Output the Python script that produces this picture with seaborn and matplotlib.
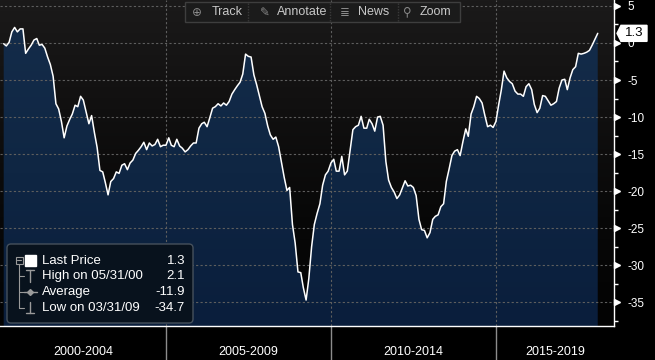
import numpy as np
import pandas as pd
import matplotlib
matplotlib.use("Agg")
import matplotlib.pyplot as plt
import matplotlib.dates as mdates
import matplotlib.ticker as mticker
import matplotlib.transforms as mtransforms
from matplotlib.colors import LinearSegmentedColormap
from matplotlib.patches import FancyBboxPatch, Rectangle, Polygon
import seaborn as sns

# month-end readings, Jan 2000 .. Jan 2018
values = [
    -0.1, -0.4, 0.1, 1.5, 2.1, 1.5, 1.9, 1.9, -1.4, -0.8, -0.3, 0.4,            # 2000
    0.6, -0.3, -0.2, -0.7, -1.9, -2.9, -4.5, -8.2, -8.9, -10.6, -12.8, -11.2,   # 2001
    -10.3, -9.6, -8.4, -8.6, -7.2, -7.7, -9.3, -10.9, -9.8, -12.1, -14.1, -17.2,  # 2002
    -17.4, -18.8, -20.5, -18.7, -18.3, -17.4, -17.6, -16.5, -16.3, -17.1, -16.2, -15.8,  # 2003
    -14.9, -14.5, -14.0, -13.4, -14.4, -13.5, -13.9, -13.7, -13.0, -14.0, -13.8, -13.8,  # 2004
    -12.8, -13.8, -14.0, -13.0, -13.9, -14.2, -14.7, -14.4, -13.9, -13.5, -13.5, -11.5,  # 2005
    -10.9, -10.7, -11.3, -10.1, -8.8, -8.6, -8.2, -8.5, -8.1, -8.4, -7.9, -6.9,  # 2006
    -6.3, -5.8, -5.3, -4.2, -1.5, -1.8, -1.9, -4.3, -5.6, -7.1, -8.6, -9.5,     # 2007
    -11.2, -12.4, -13.0, -12.7, -14.0, -16.0, -18.1, -19.9, -19.5, -24.5, -27.0, -30.9,  # 2008
    -31.0, -33.0, -34.7, -31.8, -27.5, -24.5, -23.0, -21.7, -19.2, -17.8, -17.3, -16.2,  # 2009
    -15.7, -17.3, -17.3, -15.3, -17.8, -17.3, -14.5, -11.7, -11.3, -11.1, -9.9, -11.5,  # 2010
    -11.5, -10.3, -10.9, -11.9, -10.0, -9.9, -11.1, -16.0, -18.5, -19.5, -20.1, -21.0,  # 2011
    -20.5, -19.6, -18.6, -19.3, -19.2, -19.5, -20.6, -23.8, -25.2, -25.3, -26.3, -25.6,  # 2012
    -23.8, -23.4, -23.2, -22.1, -21.7, -18.7, -17.0, -15.2, -14.6, -14.4, -15.2, -13.3,  # 2013
    -11.6, -12.6, -9.6, -8.6, -7.2, -7.5, -8.1, -9.8, -11.3, -11.1, -11.4, -10.6,  # 2014
    -8.3, -6.4, -3.8, -4.7, -5.2, -5.5, -6.5, -6.9, -6.9, -7.2, -5.9, -5.5,     # 2015
    -6.3, -8.3, -9.4, -8.8, -7.1, -7.2, -7.8, -8.4, -8.2, -7.9, -6.1, -5.0,     # 2016
    -4.9, -6.3, -4.7, -3.6, -3.2, -1.4, -1.5, -1.4, -1.25, -1.0, -0.3, 0.5,    # 2017
    1.3,                                                                         # 2018
]
dates = pd.date_range("2000-01-01", periods=len(values), freq="MS") + pd.offsets.MonthEnd(0)

y_ticks = [5, 0, -5, -10, -15, -20, -25, -30, -35]
period_labels = ["2000-2004", "2005-2009", "2010-2014", "2015-2019"]
period_starts = ["2000-01-01", "2005-01-01", "2010-01-01", "2015-01-01"]
legend_labels = ["Last Price", "High on 05/31/00", "Average", "Low on 03/31/09"]
legend_values = ["1.3", "2.1", "-11.9", "-34.7"]
toolbar_items = ["Track", "Annotate", "News", "Zoom"]
toolbar_icons = ["\u2295", "\u270e", "\u2263", "\u26b2"]

last_price = values[-1]
x_start, x_end = pd.Timestamp("1999-12-21"), pd.Timestamp("2018-07-30")
y_min, y_max = -38.2, 5.8

grid_col = "#5e5e5e"
dash = (0, (2, 2))

sns.set_theme(style="dark")
plt.rcParams["font.family"] = ["Liberation Sans", "DejaVu Sans"]

W, H = 655, 360
fig = plt.figure(figsize=(W / 100, H / 100), dpi=100, facecolor="black")
ax = fig.add_axes([0, 34 / H, 614 / W, 326 / H])
ax.grid(False)

# background gradient of plot area
bg = LinearSegmentedColormap.from_list("bg", ["#030303", "#080808", "#111010", "#1b1a1a"])
ax.imshow(np.linspace(0, 1, 256).reshape(-1, 1), cmap=bg, origin="lower",
          extent=(0, 1, 0, 1), transform=ax.transAxes, aspect="auto", zorder=0)

# gradient area under the line
poly = ax.fill_between(dates, values, y_min, facecolor="none", edgecolor="none")
fill_cmap = LinearSegmentedColormap.from_list("fill", ["#0a1e3c", "#0f2643", "#142c4a"])
im = ax.imshow(np.linspace(0, 1, 256).reshape(-1, 1), cmap=fill_cmap, origin="lower",
               extent=(mdates.date2num(x_start), mdates.date2num(x_end), y_min, 3),
               aspect="auto", zorder=1)
im.set_clip_path(poly.get_paths()[0], transform=ax.transData)

# grid
for v in y_ticks:
    ax.axhline(v, color=grid_col, lw=0.8, ls=dash, zorder=2)
for s in period_starts[1:]:
    ax.axvline(pd.Timestamp(s), color=grid_col, lw=0.8, ls=dash, zorder=2)
    ax.axvline(pd.Timestamp(s), ymin=-34 / 326, ymax=0, color="#8c8c8c", lw=1, clip_on=False)

sns.lineplot(x=dates, y=values, ax=ax, color="white", linewidth=1.1, zorder=4)

ax.set_xlim(x_start, x_end)
ax.set_ylim(y_min, y_max)
ax.set_xlabel("")
ax.set_ylabel("")

# x axis: yearly ticks, period labels below
year_ticks = [pd.Timestamp(f"{y}-01-01") for y in range(2001, 2019) if y % 5 != 0]
ax.set_xticks(year_ticks)
ax.tick_params(axis="x", direction="out", length=4, width=1, color="white", labelbottom=False)
xblend = mtransforms.blended_transform_factory(ax.transData, ax.transAxes)
for s, lab in zip(period_starts, period_labels):
    a = max(pd.Timestamp(s), x_start)
    b = min(pd.Timestamp(s) + pd.DateOffset(years=5), x_end)
    mid = a + (b - a) / 2
    ax.text(mid, -0.08, lab, transform=xblend, ha="center", va="center", color="white", fontsize=9)

# y axis on the right
ax.yaxis.tick_right()
ax.set_yticks(y_ticks)
ax.set_yticklabels([f"{v:g}" for v in y_ticks])
ax.yaxis.set_minor_locator(mticker.MultipleLocator(2.5))
ax.tick_params(axis="y", which="major", length=0, pad=10, labelcolor="white", labelsize=8.5)
ax.tick_params(axis="y", which="minor", length=3, width=1, color="white", direction="out")
yblend = mtransforms.blended_transform_factory(ax.transAxes, ax.transData)
ax.plot([617.5 / 614] * len(y_ticks), y_ticks, ls="none", marker=">", ms=4.2, color="white",
        transform=yblend, clip_on=False, zorder=5)

for side in ["top", "left"]:
    ax.spines[side].set_visible(False)
for side in ["bottom", "right"]:
    ax.spines[side].set_color("white")
    ax.spines[side].set_linewidth(1)

# last price tag
hh = 8.0 / 7.4
tag = Polygon([(617 / 614, last_price), (621 / 614, last_price + hh), (647 / 614, last_price + hh),
               (647 / 614, last_price - hh), (621 / 614, last_price - hh)],
              closed=True, fc="white", ec="white", transform=yblend, clip_on=False, zorder=10)
ax.add_patch(tag)
ax.text(634 / 614, last_price, f"{last_price:g}", transform=yblend, ha="center", va="center",
        color="black", fontsize=9.5, zorder=11, clip_on=False)

# overlay in pixel coordinates for toolbar and legend
ov = fig.add_axes([0, 0, 1, 1])
ov.set_xlim(0, W)
ov.set_ylim(H, 0)
ov.axis("off")
ov.patch.set_alpha(0)

ov.add_patch(Rectangle((185, 2), 275, 20, fc="#1b1b1b", ec="#3e3e3e", lw=1))
seps = [185, 248, 330, 398, 460]
for sx in seps[1:-1]:
    ov.plot([sx, sx], [3, 21], color="#3a3a3a", lw=1, ls=(0, (1, 1)))
icon_x = [197, 265, 345, 407]
text_x = [212, 277, 358, 420]
for ic, ix, tx, lab in zip(toolbar_icons, icon_x, text_x, toolbar_items):
    ov.text(ix, 12, ic, color="#8a8a8a", fontsize=8.5, ha="center", va="center",
            family=["DejaVu Sans"])
    ov.text(tx, 12, lab, color="#c8c8c8", fontsize=9, ha="left", va="center")

# legend box
ov.add_patch(FancyBboxPatch((7, 244), 186, 79, boxstyle="round,pad=0,rounding_size=4",
                            fc="#08121d", ec="#46515c", lw=1, zorder=3))
rows = [261, 276, 292, 308]
gray = "#9a9a9a"
ov.add_patch(Rectangle((15.5, 256.5), 7, 7, fc="none", ec=gray, lw=0.8, zorder=4))
ov.plot([17, 21], [260, 260], color=gray, lw=0.8, zorder=4)
ov.add_patch(Rectangle((25, 255), 11, 11, fc="white", ec="white", zorder=4))
ov.plot([19, 19], [264, rows[3]], color=gray, lw=0.8, zorder=4)
for r in rows[1:]:
    ov.plot([19, 24], [r, r], color=gray, lw=0.8, zorder=4)
ov.plot([26, 34], [270, 270], color=gray, lw=1, zorder=4)
ov.plot([30, 30], [270, 282], color=gray, lw=1, zorder=4)
ov.plot([24, 37], [rows[2], rows[2]], color=gray, lw=1, zorder=4)
ov.plot([30], [rows[2]], marker="D", ms=3, color=gray, zorder=4)
ov.plot([30, 30], [302, 313], color=gray, lw=1, zorder=4)
ov.plot([26, 34], [313, 313], color=gray, lw=1, zorder=4)
for r, lab, val in zip(rows, legend_labels, legend_values):
    ov.text(42, r, lab, color="white", fontsize=9.5, ha="left", va="center", zorder=5)
    ov.text(185, r, val, color="white", fontsize=9.5, ha="right", va="center", zorder=5)

fig.savefig("out.png", dpi=100, facecolor="black")
